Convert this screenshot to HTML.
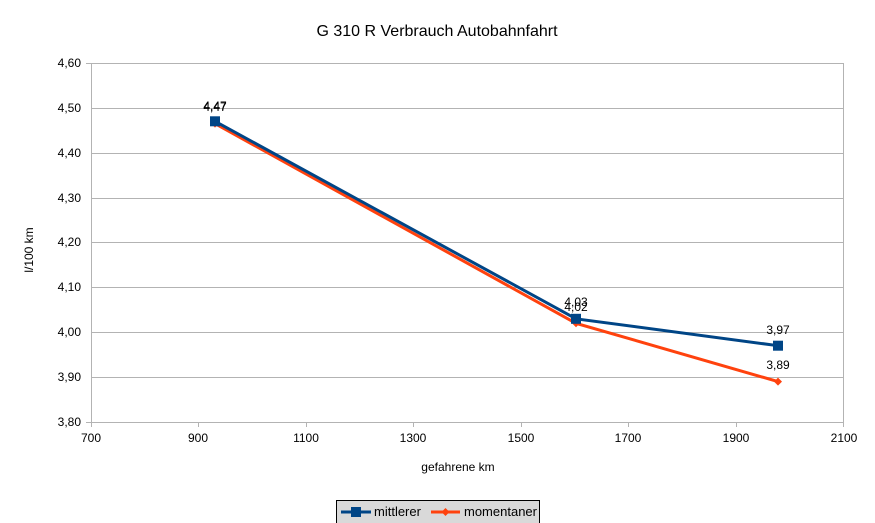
<!DOCTYPE html>
<html><head><style>body{margin:0;background:#fff}svg{display:block}text{font-family:"Liberation Sans",sans-serif}</style></head>
<body>
<svg width="875" height="523" viewBox="0 0 875 523" xmlns="http://www.w3.org/2000/svg">
<rect width="875" height="523" fill="#fff"/>
<text x="437" y="36" font-size="16" text-anchor="middle" fill="#000">G 310 R Verbrauch Autobahnfahrt</text>
<g stroke="#b3b3b3" stroke-width="1">
<line x1="91" y1="63.5" x2="844" y2="63.5"/><line x1="91" y1="108.5" x2="844" y2="108.5"/>
<line x1="91" y1="153.5" x2="844" y2="153.5"/><line x1="91" y1="198.5" x2="844" y2="198.5"/>
<line x1="91" y1="242.5" x2="844" y2="242.5"/><line x1="91" y1="287.5" x2="844" y2="287.5"/>
<line x1="91" y1="332.5" x2="844" y2="332.5"/><line x1="91" y1="377.5" x2="844" y2="377.5"/>
<line x1="91" y1="422.5" x2="844" y2="422.5"/>
<line x1="91.5" y1="63" x2="91.5" y2="427"/><line x1="843.5" y1="63" x2="843.5" y2="427"/>
<line x1="198.5" y1="422" x2="198.5" y2="427"/><line x1="306.5" y1="422" x2="306.5" y2="427"/>
<line x1="413.5" y1="422" x2="413.5" y2="427"/><line x1="521.5" y1="422" x2="521.5" y2="427"/>
<line x1="628.5" y1="422" x2="628.5" y2="427"/><line x1="736.5" y1="422" x2="736.5" y2="427"/>
<line x1="86" y1="63.5" x2="91" y2="63.5"/><line x1="86" y1="422.5" x2="91" y2="422.5"/>
</g>
<g font-size="12" fill="#000" text-anchor="end">
<text x="81" y="67">4,60</text><text x="81" y="112">4,50</text><text x="81" y="157">4,40</text>
<text x="81" y="202">4,30</text><text x="81" y="246">4,20</text><text x="81" y="291">4,10</text>
<text x="81" y="336">4,00</text><text x="81" y="381">3,90</text><text x="81" y="426">3,80</text>
</g>
<g font-size="12" fill="#000" text-anchor="middle">
<text x="91" y="442">700</text><text x="198" y="442">900</text><text x="306" y="442">1100</text>
<text x="413" y="442">1300</text><text x="521" y="442">1500</text><text x="628" y="442">1700</text>
<text x="736" y="442">1900</text><text x="844" y="442">2100</text>
<text x="458" y="471">gefahrene km</text>
</g>
<text transform="translate(33,250) rotate(-90)" font-size="12" text-anchor="middle">l/100 km</text>
<polyline points="215,123.6 576,323.3 778,381.6" fill="none" stroke="#ff420e" stroke-width="3"/>
<g fill="#ff420e"><path d="M215,119.6 219,123.6 215,127.6 211,123.6Z"/><path d="M576,319.3 580,323.3 576,327.3 572,323.3Z"/><path d="M778,377.6 782,381.6 778,385.6 774,381.6Z"/></g>
<polyline points="215,121.3 576,318.8 778,345.7" fill="none" stroke="#004586" stroke-width="3"/>
<g fill="#004586"><rect x="210" y="116.3" width="10" height="10"/><rect x="571" y="313.8" width="10" height="10"/><rect x="773" y="340.7" width="10" height="10"/></g>
<g font-size="12" fill="#000" text-anchor="middle">
<text x="215" y="110">4,47</text><text x="215" y="111">4,47</text>
<text x="576" y="306">4,03</text><text x="576" y="311">4,02</text>
<text x="778" y="334">3,97</text><text x="778" y="369">3,89</text>
</g>
<rect x="336.5" y="500.5" width="203" height="24" fill="#d9d9d9" stroke="#000"/>
<line x1="341" y1="512" x2="371" y2="512" stroke="#004586" stroke-width="3"/>
<rect x="351" y="507" width="10" height="10" fill="#004586"/>
<text x="374" y="516" font-size="13">mittlerer</text>
<line x1="431" y1="512" x2="460" y2="512" stroke="#ff420e" stroke-width="3"/>
<path d="M445.5,508 449.5,512 445.5,516 441.5,512Z" fill="#ff420e"/>
<text x="464" y="516" font-size="13">momentaner</text>
</svg>
</body></html>
